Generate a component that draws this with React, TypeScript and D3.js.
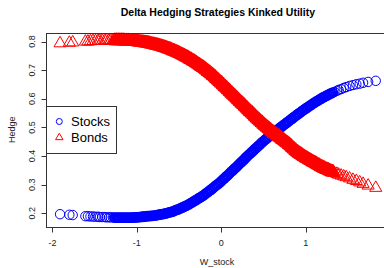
import React from 'react';
import * as d3 from 'd3';

// W_stock sample (sorted) and the two hedge ratios
const W_STOCK = [
  -1.91, -1.8, -1.76, -1.61, -1.58, -1.55, -1.52, -1.49, -1.46, -1.44, -1.41, -1.38, -1.36, -1.33, -1.31, -1.28, -1.26, -1.24, -1.22,
  -1.2, -1.18, -1.16, -1.14, -1.12, -1.1, -1.08, -1.06, -1.04, -1.02,
  -1.0, -0.98, -0.96, -0.94, -0.92, -0.9, -0.88, -0.86, -0.84, -0.82,
  -0.8, -0.78, -0.76, -0.74, -0.72, -0.7, -0.68, -0.66, -0.64, -0.62,
  -0.6, -0.58, -0.56, -0.54, -0.52, -0.5, -0.48, -0.46, -0.44, -0.42,
  -0.4, -0.38, -0.36, -0.34, -0.32, -0.3, -0.28, -0.26, -0.24, -0.22,
  -0.2, -0.18, -0.16, -0.14, -0.12, -0.1, -0.08, -0.06, -0.04, -0.02,
  0.0, 0.02, 0.04, 0.06, 0.08, 0.1, 0.12, 0.14, 0.16, 0.18,
  0.2, 0.22, 0.24, 0.26, 0.28, 0.3, 0.32, 0.34, 0.36, 0.38,
  0.4, 0.42, 0.44, 0.46, 0.48, 0.5, 0.52, 0.54, 0.56, 0.58,
  0.6, 0.62, 0.64, 0.66, 0.68, 0.7, 0.72, 0.74, 0.76, 0.78,
  0.8, 0.82, 0.84, 0.86, 0.88, 0.9, 0.92, 0.94, 0.96, 0.98,
  1.0, 1.02, 1.04, 1.06, 1.08, 1.1, 1.12, 1.14, 1.16, 1.18,
  1.2, 1.22, 1.24, 1.26, 1.28, 1.3,
  1.32, 1.34, 1.37, 1.39, 1.42, 1.45, 1.48, 1.52, 1.56, 1.6, 1.64, 1.68, 1.74, 1.83,
];

const STOCK_HEDGE = [
  0.197, 0.195, 0.194, 0.19, 0.19, 0.189, 0.189, 0.188, 0.188, 0.187, 0.187, 0.187, 0.186, 0.186, 0.186, 0.186, 0.185, 0.185, 0.185,
  0.185, 0.185, 0.185, 0.185, 0.185, 0.185, 0.185, 0.185, 0.186, 0.186,
  0.186, 0.187, 0.187, 0.188, 0.188, 0.189, 0.19, 0.19, 0.191, 0.191,
  0.192, 0.193, 0.194, 0.195, 0.196, 0.197, 0.198, 0.2, 0.201, 0.203,
  0.204, 0.206, 0.208, 0.211, 0.213, 0.215, 0.218, 0.221, 0.223, 0.226,
  0.229, 0.232, 0.236, 0.239, 0.243, 0.246, 0.25, 0.254, 0.257, 0.261,
  0.265, 0.27, 0.274, 0.279, 0.283, 0.288, 0.293, 0.298, 0.302, 0.307,
  0.312, 0.318, 0.323, 0.329, 0.334, 0.34, 0.346, 0.351, 0.357, 0.362,
  0.368, 0.374, 0.38, 0.385, 0.391, 0.397, 0.403, 0.408, 0.414, 0.419,
  0.425, 0.43, 0.436, 0.441, 0.447, 0.452, 0.457, 0.462, 0.467, 0.472,
  0.477, 0.482, 0.486, 0.491, 0.495, 0.5, 0.504, 0.509, 0.513, 0.518,
  0.522, 0.527, 0.531, 0.536, 0.54, 0.545, 0.549, 0.553, 0.558, 0.562,
  0.566, 0.57, 0.574, 0.578, 0.582, 0.586, 0.59, 0.593, 0.597, 0.6,
  0.604, 0.607, 0.61, 0.613, 0.616, 0.619,
  0.622, 0.624, 0.628, 0.631, 0.634, 0.638, 0.641, 0.645, 0.648, 0.651, 0.653, 0.656, 0.659, 0.663,
];

const BOND_HEDGE = [
  0.794, 0.796, 0.797, 0.8, 0.8, 0.801, 0.802, 0.802, 0.802, 0.803, 0.803, 0.803, 0.804, 0.804, 0.804, 0.804, 0.804, 0.804, 0.804,
  0.804, 0.804, 0.804, 0.803, 0.803, 0.803, 0.802, 0.802, 0.801, 0.801,
  0.8, 0.799, 0.798, 0.798, 0.797, 0.796, 0.795, 0.794, 0.792, 0.791,
  0.79, 0.788, 0.787, 0.785, 0.784, 0.782, 0.78, 0.778, 0.776, 0.774,
  0.772, 0.769, 0.767, 0.764, 0.762, 0.759, 0.756, 0.753, 0.75, 0.747,
  0.744, 0.74, 0.737, 0.733, 0.73, 0.726, 0.722, 0.718, 0.714, 0.71,
  0.706, 0.701, 0.696, 0.692, 0.687, 0.682, 0.677, 0.671, 0.666, 0.66,
  0.655, 0.649, 0.643, 0.638, 0.632, 0.626, 0.62, 0.614, 0.609, 0.603,
  0.597, 0.591, 0.585, 0.58, 0.574, 0.568, 0.562, 0.556, 0.551, 0.545,
  0.539, 0.533, 0.528, 0.522, 0.517, 0.511, 0.506, 0.501, 0.496, 0.491,
  0.486, 0.482, 0.477, 0.473, 0.468, 0.464, 0.459, 0.455, 0.45, 0.446,
  0.441, 0.436, 0.43, 0.425, 0.419, 0.414, 0.41, 0.406, 0.402, 0.398,
  0.394, 0.391, 0.387, 0.384, 0.38, 0.377, 0.374, 0.37, 0.367, 0.363,
  0.36, 0.357, 0.354, 0.352, 0.349, 0.346,
  0.344, 0.341, 0.338, 0.335, 0.332, 0.329, 0.326, 0.322, 0.317, 0.313, 0.308, 0.303, 0.297, 0.289,
];

const X_TICKS = [-2, -1, 0, 1];
const Y_TICKS = [0.2, 0.3, 0.4, 0.5, 0.6, 0.7, 0.8];
const LEGEND = ['Stocks', 'Bonds'];

const FONT = 'Liberation Sans, Arial, Helvetica, sans-serif';
const BLUE = '#0000FF';
const RED = '#FF0000';

export default function App() {
  const width = 384;
  const height = 268;

  const x = d3.scaleLinear().domain([-2.06, 1.98]).range([47.4, 388.4]);
  const y = d3.scaleLinear().domain([0.154, 0.83]).range([226.5, 33]);

  const left = Math.round(x.range()[0]) - 0.5;
  const right = Math.round(x.range()[1]) + 0.5;
  const top = Math.round(y.range()[1]) + 0.5;
  const bottom = Math.round(y.range()[0]) + 0.5;

  // pch = 2 triangle, centred on the point like R does
  const tri = d3.symbol().type(d3.symbolTriangle).size(63.6)() as string;
  const triDense = d3.symbol().type(d3.symbolTriangle).size(56)() as string;
  const triSmall = d3.symbol().type(d3.symbolTriangle).size(24)() as string;

  // where the sample is dense the R markers pile up into a solid band;
  // thicken the outline there so ours closes up too
  const pts = W_STOCK.map((w, i) => {
    const prev = i > 0 ? w - W_STOCK[i - 1] : Infinity;
    const next = i < W_STOCK.length - 1 ? W_STOCK[i + 1] - w : Infinity;
    const dense = Math.max(prev, next) <= 0.021;
    return { w, s: STOCK_HEDGE[i], b: BOND_HEDGE[i], dense };
  });

  return (
    <svg
      width={width}
      height={height}
      style={{ position: 'absolute', left: 0, top: 0, background: '#fff' }}
      fontFamily={FONT}
    >
      {/* Title */}
      <text
        x={(x.range()[0] + x.range()[1]) / 2}
        y={16}
        textAnchor="middle"
        fontSize={10.5}
        fontWeight="bold"
        fill="#000"
      >
        Delta Hedging Strategies Kinked Utility
      </text>

      {/* Stocks (circles) */}
      <g fill="none" stroke={BLUE}>
        {pts.map((d, i) => (
          <circle
            key={`s${i}`}
            cx={x(d.w)}
            cy={y(d.s)}
            r={d.dense ? 4.3 : 4.7}
            strokeWidth={d.dense ? 2.2 : 1}
          />
        ))}
      </g>

      {/* Bonds (triangles) */}
      <g fill="none" stroke={RED}>
        {pts.map((d, i) => (
          <path
            key={`b${i}`}
            d={d.dense ? triDense : tri}
            strokeWidth={d.dense ? 2.8 : 1}
            strokeLinejoin="round"
            transform={`translate(${x(d.w)},${y(d.b)})`}
          />
        ))}
      </g>

      {/* Plot box */}
      <rect x={left} y={top} width={right - left} height={bottom - top} fill="none" stroke="#333" strokeWidth={1} />

      {/* X axis */}
      {X_TICKS.map((t) => (
        <g key={`xt${t}`}>
          <line x1={Math.round(x(t)) + 0.5} x2={Math.round(x(t)) + 0.5} y1={bottom} y2={bottom + 5} stroke="#333" />
          <text x={x(t)} y={246} textAnchor="middle" fontSize={9} fill="#222">
            {t}
          </text>
        </g>
      ))}
      <text x={(x.range()[0] + x.range()[1]) / 2 - 1} y={265.3} textAnchor="middle" fontSize={9} fill="#222">
        W_stock
      </text>

      {/* Y axis */}
      {Y_TICKS.map((t) => (
        <g key={`yt${t}`}>
          <line x1={left - 5} x2={left} y1={Math.round(y(t)) + 0.5} y2={Math.round(y(t)) + 0.5} stroke="#333" />
          <text
            x={32}
            y={y(t)}
            dy="0.35em"
            textAnchor="middle"
            fontSize={9}
            fill="#222"
            transform={`rotate(-90, 32, ${y(t)})`}
          >
            {t.toFixed(1)}
          </text>
        </g>
      ))}
      <text
        x={11.5}
        y={(y.range()[0] + y.range()[1]) / 2}
        dy="0.35em"
        textAnchor="middle"
        fontSize={9}
        fill="#222"
        transform={`rotate(-90, 11.5, ${(y.range()[0] + y.range()[1]) / 2})`}
      >
        Hedge
      </text>

      {/* Legend */}
      <g>
        <rect x={left} y={106.5} width={70} height={47} fill="#fff" stroke="#333" strokeWidth={1} />
        <circle cx={59.3} cy={121.5} r={3} fill="none" stroke={BLUE} />
        <path d={triSmall} transform="translate(59.3,137.5)" fill="none" stroke={RED} />
        {LEGEND.map((label, i) => (
          <text key={label} x={71} y={126.3 + i * 15.7} fontSize={13} fill="#000">
            {label}
          </text>
        ))}
      </g>
    </svg>
  );
}
